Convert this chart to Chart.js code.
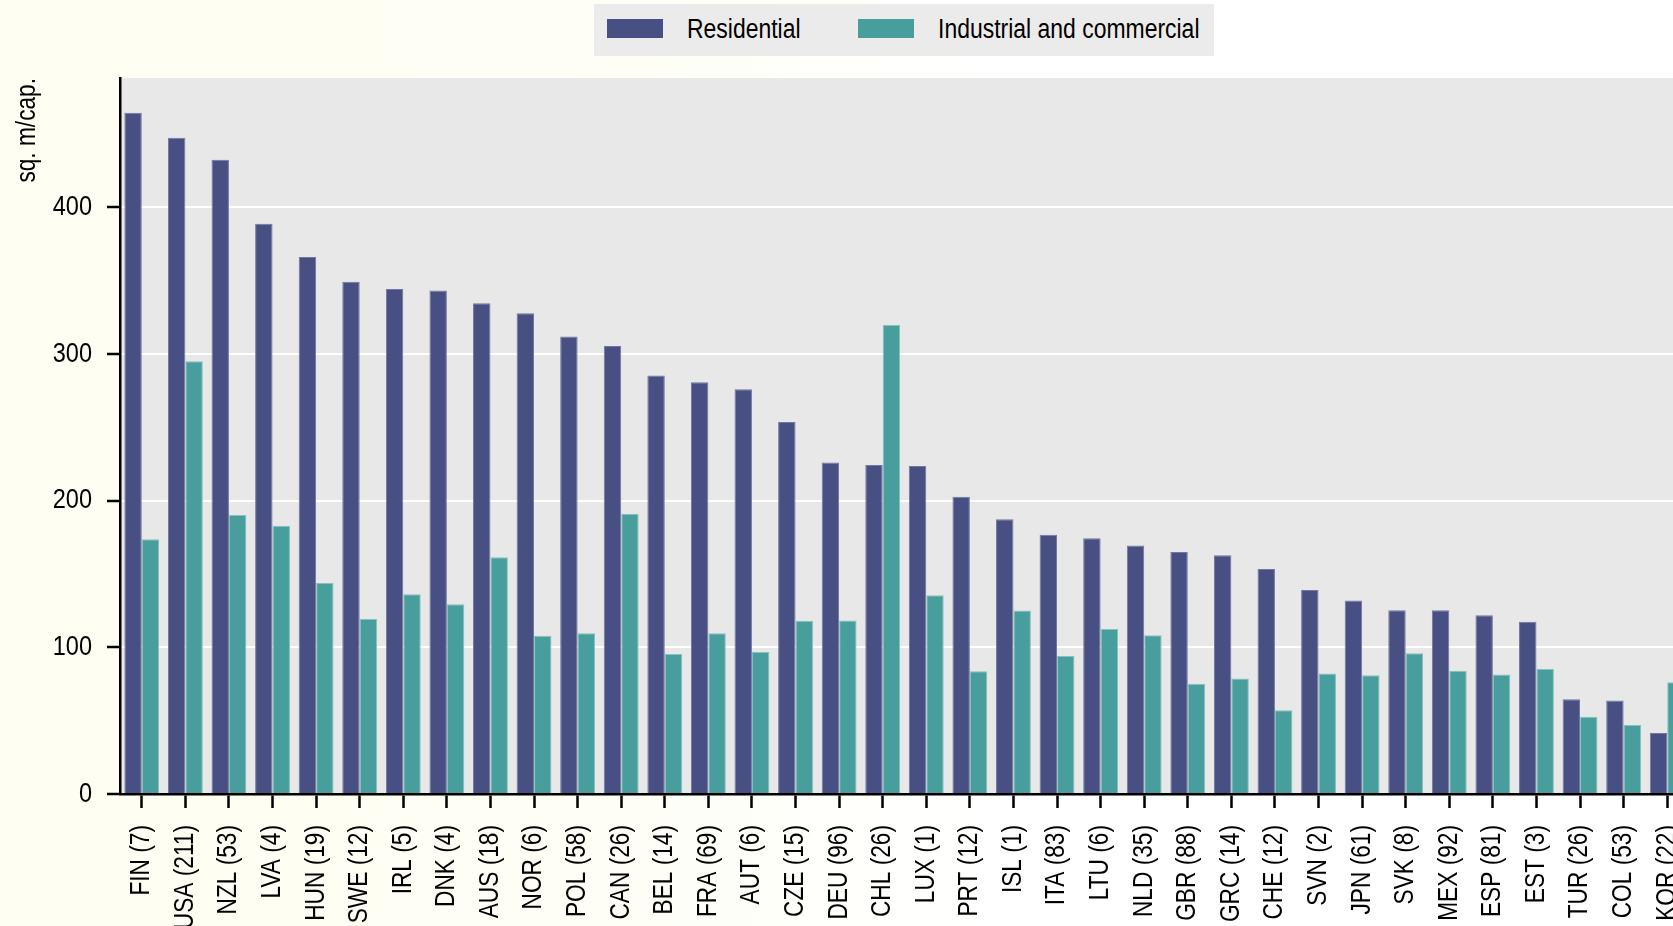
<!DOCTYPE html>
<html>
<head>
<meta charset="utf-8">
<script src="https://cdn.jsdelivr.net/npm/chart.js@4.4.1/dist/chart.umd.min.js"></script>
<style>
    html, body { margin: 0; padding: 0; overflow: hidden; }
    body {
        width: 1673px; height: 926px; position: relative;
        background: linear-gradient(to right, #fefef2 0%, #fefef4 30%, #ffffff 60%);
        font-family: 'Liberation Sans', Arial, sans-serif;
    }
    #legend {
        position: absolute; left: 594px; top: 4px; width: 620px; height: 52px;
        background: #ebebeb;
    }
    #legend .sw { position: absolute; top: 15px; width: 56px; height: 19px; }
    #legend .lb {
        position: absolute; top: 10px; font-size: 27px; line-height: 30px; color: #000;
        white-space: nowrap; transform: scaleX(0.85); transform-origin: left center;
    }
    #wrap { position: absolute; left: 0; top: 0; }
</style>
</head>
<body>
<div id="wrap"><canvas id="areaChart" width="1689" height="926"></canvas></div>
<div id="legend"></div>
<script>
const countries = [
    'FIN (7)', 'USA (211)', 'NZL (53)', 'LVA (4)', 'HUN (19)', 'SWE (12)', 'IRL (5)', 'DNK (4)',
    'AUS (18)', 'NOR (6)', 'POL (58)', 'CAN (26)', 'BEL (14)', 'FRA (69)', 'AUT (6)', 'CZE (15)',
    'DEU (96)', 'CHL (26)', 'LUX (1)', 'PRT (12)', 'ISL (1)', 'ITA (83)', 'LTU (6)', 'NLD (35)',
    'GBR (88)', 'GRC (14)', 'CHE (12)', 'SVN (2)', 'JPN (61)', 'SVK (8)', 'MEX (92)', 'ESP (81)',
    'EST (3)', 'TUR (26)', 'COL (53)', 'KOR (22)'
];
const residential = [
    464.3, 447.2, 432.3, 388.7, 366.0, 349.2, 344.2, 343.1,
    334.4, 327.6, 311.8, 305.4, 285.2, 280.7, 275.9, 253.6,
    226.0, 224.2, 223.5, 202.6, 187.2, 176.7, 174.3, 169.4,
    164.9, 162.7, 153.3, 139.1, 131.9, 125.2, 125.2, 121.8,
    117.4, 64.5, 63.8, 41.6
];
const industrial = [
    173.6, 295.0, 190.1, 182.8, 143.8, 119.3, 136.1, 129.3,
    161.3, 107.8, 109.6, 191.0, 95.5, 109.6, 96.7, 118.1,
    118.2, 319.7, 135.5, 83.7, 125.0, 94.1, 112.5, 108.2,
    75.1, 78.7, 57.0, 82.2, 80.9, 95.9, 84.0, 81.5,
    85.2, 52.7, 47.0, 76.1
];
const seriesNames = ['Residential', 'Industrial and commercial'];
const yTicks = [0, 100, 200, 300, 400];
const yMax = 488;
const yTitle = 'sq. m/cap.';

const RES_COLOR = '#485083';
const IND_COLOR = '#489e9d';
const CONDENSE = 0.84;

// grey panel behind the bars
const plotBackground = {
    id: 'plotBackground',
    beforeDraw(chart) {
        const { ctx, chartArea: a } = chart;
        ctx.save();
        ctx.fillStyle = '#e8e8e8';
        ctx.fillRect(a.left, a.top, a.right - a.left, a.bottom - a.top);
        ctx.restore();
    }
};

const canvas = document.getElementById('areaChart');
const ctx = canvas.getContext('2d');

// no narrow face installed: squeeze every label with fillText's maxWidth
ctx.fillText = function (text, x, y, maxWidth) {
    const w = this.measureText(text).width * CONDENSE;
    const mw = maxWidth === undefined ? w : Math.min(w, maxWidth);
    CanvasRenderingContext2D.prototype.fillText.call(this, text, x, y, mw);
};

Chart.defaults.font.family = "'Liberation Sans', Arial, sans-serif";
Chart.defaults.color = '#000';

const chart = new Chart(ctx, {
    type: 'bar',
    data: {
        labels: countries,
        datasets: [
            {
                label: seriesNames[0], data: residential,
                backgroundColor: RES_COLOR, borderColor: '#7077a0', borderWidth: 1,
                categoryPercentage: 0.8, barPercentage: 1.0,
            },
            {
                label: seriesNames[1], data: industrial,
                backgroundColor: IND_COLOR, borderColor: '#86c0bf', borderWidth: 1,
                categoryPercentage: 0.8, barPercentage: 1.0,
            }
        ]
    },
    options: {
        responsive: false, animation: false,
        layout: { padding: { top: 78, left: 0, right: 0, bottom: 0 } },
        plugins: { legend: { display: false }, tooltip: { enabled: false } },
        scales: {
            x: {
                offset: true,
                grid: { offset: false, drawOnChartArea: false, drawTicks: true, tickLength: 14, tickColor: '#000', tickWidth: 2.5 },
                border: { display: true, color: '#000', width: 2.5 },
                ticks: { font: { size: 27 }, color: '#000', minRotation: 90, maxRotation: 90, autoSkip: false, padding: 17 },
                afterFit(scale) { scale.height = 132; scale.paddingLeft = 0; scale.paddingRight = 0; },
            },
            y: {
                min: 0, max: yMax,
                grid: { color: '#ffffff', lineWidth: 2, tickLength: 13, tickColor: '#000', tickWidth: 2.5 },
                border: { display: true, color: '#000', width: 2.5 },
                ticks: { stepSize: 100, font: { size: 28 }, color: '#000', padding: 15 },
                afterBuildTicks(scale) { scale.ticks = yTicks.map(v => ({ value: v })); },
                afterFit(scale) { scale.width = 120; scale.paddingTop = 0; scale.paddingBottom = 0; },
                title: {
                    display: true, text: yTitle, align: 'end', color: '#000',
                    font: { size: 27 }, padding: { top: 11, bottom: 0 },
                },
            }
        }
    },
    plugins: [plotBackground]
});

// legend panel above the plot, built from the datasets
const legendEl = document.getElementById('legend');
const legendPos = [{ sw: 13, lb: 93 }, { sw: 264, lb: 344 }];
chart.data.datasets.forEach((ds, i) => {
    const sw = document.createElement('div');
    sw.className = 'sw';
    sw.style.left = legendPos[i].sw + 'px';
    sw.style.background = ds.backgroundColor;
    const lb = document.createElement('div');
    lb.className = 'lb';
    lb.style.left = legendPos[i].lb + 'px';
    lb.textContent = ds.label;
    legendEl.appendChild(sw);
    legendEl.appendChild(lb);
});
</script>
</body>
</html>
